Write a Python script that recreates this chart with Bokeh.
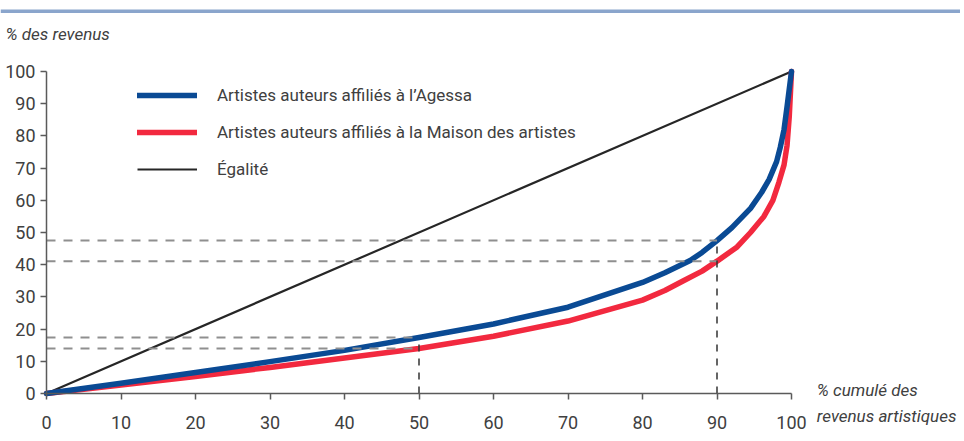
from bokeh.plotting import figure
from bokeh.models import Legend, LegendItem, Label, FixedTicker, Range1d, BoxAnnotation
from bokeh.embed import file_html
from bokeh.resources import INLINE

# ---- data ----
x_ticks = [0, 10, 20, 30, 40, 50, 60, 70, 80, 90, 100]
y_ticks = [0, 10, 20, 30, 40, 50, 60, 70, 80, 90, 100]

agessa_x = [0, 10, 20, 30, 40, 50, 60, 70, 80, 83, 86.4, 88, 90, 92, 94.5, 96, 97, 98, 98.5, 99, 99.4, 99.7, 100]
agessa_y = [0, 3.2, 6.5, 9.9, 13.4, 17.4, 21.6, 26.8, 34.5, 37.5, 41.3, 43.8, 47.5, 51.5, 57.5, 62.5, 66.5, 72, 76.5, 82, 89, 94.5, 100]

mda_x = [0, 10, 20, 30, 40, 50, 60, 70, 80, 83, 85.5, 88, 90, 92.7, 94.5, 96.3, 97.5, 98.3, 99, 99.4, 99.7, 100]
mda_y = [0, 2.6, 5.3, 8.1, 11, 14, 17.8, 22.5, 29, 32, 35, 38, 41.1, 45.5, 50, 55, 60, 65.5, 71, 77, 86, 100]

egalite_x = [0, 100]
egalite_y = [0, 100]

seuils = [50, 90]  # percentiles marked by dashed guides

label_agessa = "Artistes auteurs affiliés à l’Agessa"
label_mda = "Artistes auteurs affiliés à la Maison des artistes"
label_egalite = "Égalité"
y_title = "% des revenus"
x_title_1 = "% cumulé des"
x_title_2 = "revenus artistiques"

# ---- layout constants (pixels inside the canvas) ----
W, H = 960, 436
X0_PX, X100_PX = 46, 791      # where data x=0 and x=100 sit
Y0_PX, Y100_PX = 393, 71      # where data y=0 and y=100 sit (from top)
ppx = (X100_PX - X0_PX) / 100.0
ppy = (Y0_PX - Y100_PX) / 100.0
x_start, x_end = -X0_PX / ppx, 100 + (W - X100_PX) / ppx
y_start, y_end = -(H - Y0_PX) / ppy, 100 + Y100_PX / ppy

FONT = "Roboto"
BLUE = "#0a4a94"
RED = "#f2293f"
TXT = "#404040"
AX = "#5a5a5a"

p = figure(width=W, height=H, x_range=Range1d(x_start, x_end), y_range=Range1d(y_start, y_end),
           output_backend="svg", toolbar_location=None, min_border=0)
p.outline_line_color = None
p.grid.visible = False
p.title.visible = False

for ax, ticks in ((p.xaxis, x_ticks), (p.yaxis, y_ticks)):
    ax.fixed_location = 0
    ax.bounds = (0, 100)
    ax.ticker = FixedTicker(ticks=ticks)
    ax.axis_line_color = AX
    ax.axis_line_width = 1.5
    ax.major_tick_line_color = AX
    ax.major_tick_line_width = 1.5
    ax.major_tick_out = 6
    ax.major_tick_in = 0
    ax.minor_tick_out = 0
    ax.minor_tick_in = 0
    ax.major_label_text_font = FONT
    ax.major_label_text_font_size = "18px"
    ax.major_label_text_color = TXT
p.xaxis.major_label_standoff = 16
p.yaxis.major_label_standoff = 5

# top rule
p.add_layout(BoxAnnotation(top=y_end - 9 / ppy, bottom=y_end - 12.5 / ppy,
                           fill_color="#8aa5cc", fill_alpha=1, line_color=None))

def val_at(xs, ys, xv):
    return ys[xs.index(xv)]

r_eg = p.line(egalite_x, egalite_y, line_color="#262626", line_width=2.2)
r_mda = p.line(mda_x, mda_y, line_color=RED, line_width=5.5, line_cap="round", line_join="round")
r_ag = p.line(agessa_x, agessa_y, line_color=BLUE, line_width=5.5, line_cap="round", line_join="round")

# dashed guides on top of curves
for s in seuils:
    for xs, ys in ((agessa_x, agessa_y), (mda_x, mda_y)):
        yv = val_at(xs, ys, s)
        p.segment(x0=[0], y0=[yv], x1=[s], y1=[yv], line_color="#8f8f8f",
                  line_width=2, line_dash="9 8")
    top = max(val_at(agessa_x, agessa_y, s), val_at(mda_x, mda_y, s))
    p.segment(x0=[s], y0=[0], x1=[s], y1=[top], line_color="#333333",
              line_width=1.5, line_dash="7 7")

legend = Legend(items=[LegendItem(label=label_agessa, renderers=[r_ag]),
                       LegendItem(label=label_mda, renderers=[r_mda]),
                       LegendItem(label=label_egalite, renderers=[r_eg])],
                location=(137, H - 180), glyph_width=60, glyph_height=22, label_height=22,
                label_standoff=20, spacing=15, padding=0, margin=0,
                border_line_color=None, background_fill_alpha=0,
                label_text_font=FONT, label_text_font_size="17px", label_text_color=TXT)
p.add_layout(legend)

for txt, lx, ly in ((y_title, -5.5, 111.7), (x_title_1, 103.4, 1.05), (x_title_2, 103.4, -7.0)):
    p.add_layout(Label(x=lx, y=ly, text=txt, text_font=FONT, text_font_size="17px",
                       text_font_style="italic", text_color=TXT, text_baseline="alphabetic"))

open("out.html", "w").write(file_html(p, INLINE))
